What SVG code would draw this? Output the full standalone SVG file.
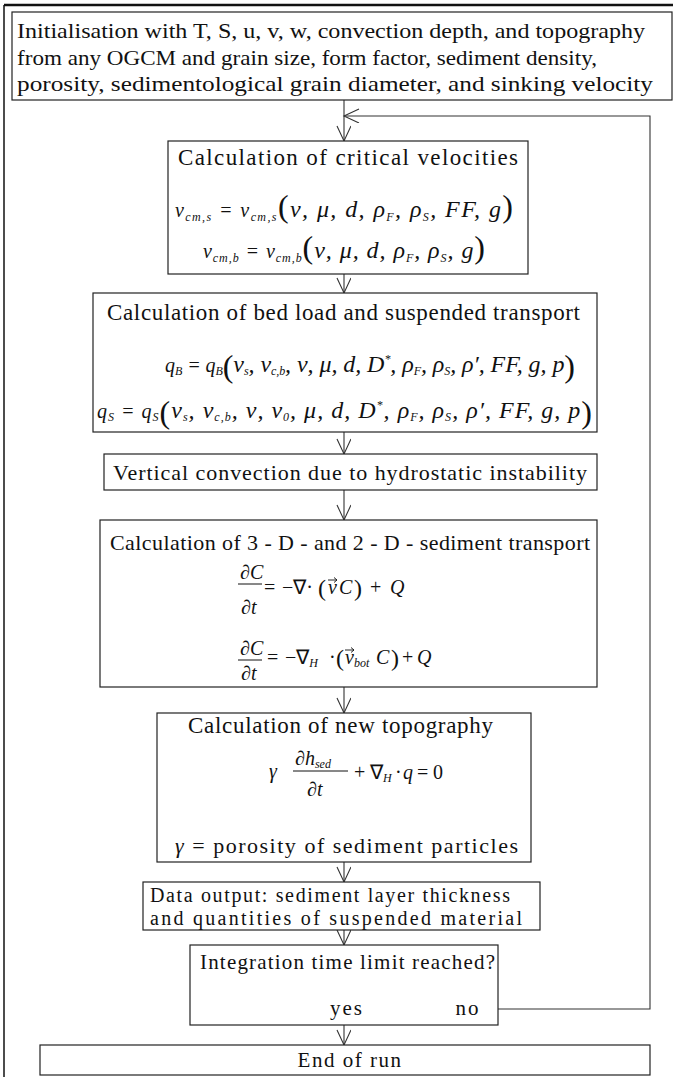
<svg xmlns="http://www.w3.org/2000/svg" width="673" height="1077" viewBox="0 0 673 1077">
<defs>
<style>
.box{fill:#fff;stroke:#222;stroke-width:1.2}
.t{font-family:"Liberation Serif",serif;fill:#111}
.f{font-family:"Liberation Serif",serif;font-style:italic;fill:#111;font-size:20px}
.a{font-size:24px}
.s{font-size:12px}
.p{font-size:32px;font-style:normal}
.conn{stroke:#333;stroke-width:1.1;fill:none}
.frame{stroke:#111;fill:none}
</style>
<marker id="ah" markerWidth="18" markerHeight="16" refX="16" refY="7" orient="auto" markerUnits="userSpaceOnUse">
<path d="M1,0 L16,7 L1,14" fill="none" stroke="#333" stroke-width="1.1"/>
</marker>
</defs>
<rect width="673" height="1077" fill="#fff"/>
<g id="frame">
<line class="frame" x1="4" y1="5" x2="673" y2="5" stroke-width="2.5"/>
<line class="frame" x1="4" y1="5" x2="4" y2="1077" stroke-width="1.5"/>
</g>
<g id="connectors">
<line class="conn" x1="344" y1="100" x2="344" y2="141" marker-end="url(#ah)"/>
<polyline class="conn" points="498,1009 650,1009 650,116 344,116" marker-end="url(#ah)"/>
<line class="conn" x1="344" y1="274" x2="344" y2="293" marker-end="url(#ah)"/>
<line class="conn" x1="344" y1="432" x2="344" y2="454" marker-end="url(#ah)"/>
<line class="conn" x1="344" y1="490" x2="344" y2="520" marker-end="url(#ah)"/>
<line class="conn" x1="344" y1="687" x2="344" y2="713" marker-end="url(#ah)"/>
<line class="conn" x1="344" y1="862" x2="344" y2="882" marker-end="url(#ah)"/>
<line class="conn" x1="344" y1="930" x2="344" y2="945" marker-end="url(#ah)"/>
<line class="conn" x1="344" y1="1025" x2="344" y2="1045" marker-end="url(#ah)"/>
</g>
<g id="n1">
<rect class="box" x="12" y="12" width="660" height="88"/>
<text class="t" font-size="22" x="17" y="38" textLength="628" lengthAdjust="spacingAndGlyphs">Initialisation with T, S, u, v, w, convection depth, and topography</text>
<text class="t" font-size="22" x="17" y="65" textLength="580" lengthAdjust="spacingAndGlyphs">from any OGCM and grain size, form factor, sediment density,</text>
<text class="t" font-size="22" x="17" y="91" textLength="636" lengthAdjust="spacingAndGlyphs">porosity, sedimentological grain diameter, and sinking velocity</text>
</g>
<g id="n2">
<rect class="box" x="168" y="141" width="360" height="133"/>
<text class="t" font-size="23" x="178" y="165" textLength="340" lengthAdjust="spacing">Calculation of critical velocities</text>
<text class="f" x="175" y="217" textLength="338" lengthAdjust="spacing">v<tspan class="s" dy="4">cm,s</tspan><tspan dy="-4"> = v</tspan><tspan class="s" dy="4">cm,s</tspan><tspan class="p" dy="-4">(</tspan><tspan class="a">ν, μ, d, ρ</tspan><tspan class="s" dy="4">F</tspan><tspan class="a" dy="-4">, ρ</tspan><tspan class="s" dy="4">S</tspan><tspan class="a" dy="-4">, FF, g</tspan><tspan class="p">)</tspan></text>
<text class="f" x="203" y="258" textLength="282" lengthAdjust="spacing">v<tspan class="s" dy="4">cm,b</tspan><tspan dy="-4"> = v</tspan><tspan class="s" dy="4">cm,b</tspan><tspan class="p" dy="-4">(</tspan><tspan class="a">ν, μ, d, ρ</tspan><tspan class="s" dy="4">F</tspan><tspan class="a" dy="-4">, ρ</tspan><tspan class="s" dy="4">S</tspan><tspan class="a" dy="-4">, g</tspan><tspan class="p">)</tspan></text>
</g>
<g id="n3">
<rect class="box" x="93" y="293" width="504" height="139"/>
<text class="t" font-size="23" x="107" y="320" textLength="473" lengthAdjust="spacing">Calculation of bed load and suspended transport</text>
<text class="f" x="165" y="372" textLength="410" lengthAdjust="spacing">q<tspan class="s" dy="3">B</tspan><tspan dy="-3"> = q</tspan><tspan class="s" dy="3">B</tspan><tspan class="p" dy="2">(</tspan><tspan class="a" dy="-5">ν</tspan><tspan class="s" dy="3">s</tspan><tspan class="a" dy="-3">, ν</tspan><tspan class="s" dy="3">c,b</tspan><tspan class="a" dy="-3">, ν, μ, d, D</tspan><tspan class="s" dy="-9">*</tspan><tspan class="a" dy="9">, ρ</tspan><tspan class="s" dy="3">F</tspan><tspan class="a" dy="-3">, ρ</tspan><tspan class="s" dy="3">S</tspan><tspan class="a" dy="-3">, ρ′, FF, g, p</tspan><tspan class="p" dy="5">)</tspan></text>
<text class="f" x="97" y="418" textLength="495" lengthAdjust="spacing">q<tspan class="s" dy="3">S</tspan><tspan dy="-3"> = q</tspan><tspan class="s" dy="3">S</tspan><tspan class="p" dy="2">(</tspan><tspan class="a" dy="-5">ν</tspan><tspan class="s" dy="3">s</tspan><tspan class="a" dy="-3">, ν</tspan><tspan class="s" dy="3">c,b</tspan><tspan class="a" dy="-3">, ν, ν</tspan><tspan class="s" dy="3">0</tspan><tspan class="a" dy="-3">, μ, d, D</tspan><tspan class="s" dy="-9">*</tspan><tspan class="a" dy="9">, ρ</tspan><tspan class="s" dy="3">F</tspan><tspan class="a" dy="-3">, ρ</tspan><tspan class="s" dy="3">S</tspan><tspan class="a" dy="-3">, ρ′, FF, g, p</tspan><tspan class="p" dy="5">)</tspan></text>
</g>
<g id="n4">
<rect class="box" x="104" y="454" width="493" height="36"/>
<text class="t" font-size="22" x="113" y="480" textLength="474" lengthAdjust="spacing">Vertical convection due to hydrostatic instability</text>
</g>
<g id="n5">
<rect class="box" x="100" y="520" width="497" height="167"/>
<text class="t" font-size="22" x="110" y="550" textLength="480" lengthAdjust="spacing">Calculation of 3 - D -  and 2 - D - sediment transport</text>
<text class="f" x="240" y="579">∂C</text>
<line x1="238" y1="584" x2="262" y2="584" stroke="#111" stroke-width="1"/>
<text class="f" x="241" y="614">∂t</text>
<text class="f" y="594"><tspan x="264" font-style="normal">=</tspan><tspan x="282" font-style="normal">−∇·</tspan><tspan x="318" font-size="24" font-style="normal" dy="2">(</tspan><tspan x="328" dy="-2">v</tspan><tspan x="339">C</tspan><tspan x="354" font-size="24" font-style="normal" dy="2">)</tspan><tspan x="370" font-style="normal" dy="-2">+</tspan><tspan x="390">Q</tspan></text>
<path d="M328,580 L337,580 M334,577.5 L337,580 L334,582.5" stroke="#111" stroke-width="0.9" fill="none"/>
<text class="f" x="240" y="655">∂C</text>
<line x1="238" y1="660" x2="262" y2="660" stroke="#111" stroke-width="1"/>
<text class="f" x="241" y="680">∂t</text>
<text class="f" y="664"><tspan x="267" font-style="normal">=</tspan><tspan x="285" font-style="normal">−∇</tspan><tspan class="s" dy="3">H</tspan><tspan x="329" dy="-3" font-style="normal">·</tspan><tspan x="336" font-size="24" font-style="normal" dy="2">(</tspan><tspan x="345" dy="-2">v</tspan><tspan class="s" dy="3">bot</tspan><tspan x="376" dy="-3">C</tspan><tspan x="391" font-size="24" font-style="normal" dy="2">)</tspan><tspan x="402" font-style="normal" dy="-2">+</tspan><tspan x="417">Q</tspan></text>
<path d="M345,650 L354,650 M351,647.5 L354,650 L351,652.5" stroke="#111" stroke-width="0.9" fill="none"/>
</g>
<g id="n6">
<rect class="box" x="157" y="713" width="374" height="149"/>
<text class="t" font-size="23" x="188" y="733" textLength="305" lengthAdjust="spacing">Calculation of new topography</text>
<text class="f" x="269" y="778" font-size="24">γ</text>
<text class="f" x="295" y="765" font-size="22">∂h<tspan class="s" font-size="13" dy="3">sed</tspan></text>
<line x1="293" y1="771" x2="348" y2="771" stroke="#111" stroke-width="1"/>
<text class="f" x="307" y="796" font-size="22">∂t</text>
<text class="f" y="779" font-size="22"><tspan x="354" font-style="normal">+</tspan><tspan x="370" font-style="normal">∇</tspan><tspan class="s" dy="3">H</tspan><tspan x="395" dy="-3" font-style="normal">·</tspan><tspan x="403">q</tspan><tspan x="417" font-style="normal">=</tspan><tspan x="433" font-style="normal">0</tspan></text>
<text class="t" font-size="22" x="175" y="853" textLength="343" lengthAdjust="spacing"><tspan font-style="italic">γ</tspan> = porosity of sediment particles</text>
</g>
<g id="n7">
<rect class="box" x="143" y="882" width="397" height="48"/>
<text class="t" font-size="20" x="150" y="902" textLength="360" lengthAdjust="spacing">Data output: sediment layer thickness</text>
<text class="t" font-size="20" x="150" y="925" textLength="372" lengthAdjust="spacing">and quantities of suspended material</text>
</g>
<g id="n8">
<rect class="box" x="190" y="945" width="308" height="80"/>
<text class="t" font-size="21" x="200" y="969" textLength="295" lengthAdjust="spacing">Integration time limit reached?</text>
<text class="t" font-size="21" x="347" y="1015" text-anchor="middle" letter-spacing="2">yes</text>
<text class="t" font-size="21" x="468" y="1015" text-anchor="middle" letter-spacing="2">no</text>
</g>
<g id="n9">
<rect class="box" x="40" y="1045" width="610" height="30"/>
<text class="t" font-size="21" x="350" y="1067" text-anchor="middle" letter-spacing="1.5">End of run</text>
</g>
</svg>
